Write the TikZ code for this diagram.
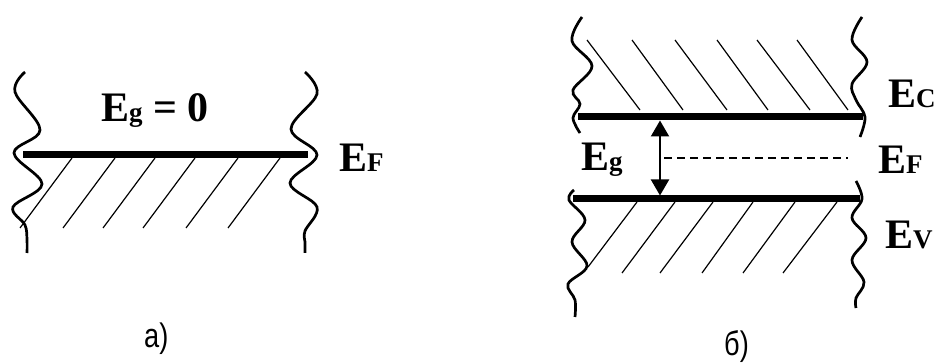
\documentclass[tikz,border=0pt]{standalone}
\usepackage{fontspec}
\setmainfont{Liberation Serif}
\newfontfamily\labfont{Liberation Sans}
\usetikzlibrary{arrows.meta}
\newcommand\lsub[1]{{\fontsize{27pt}{27pt}\selectfont #1}}
\tikzset{
  wave/.style={line width=2.7pt},
  bar/.style={line width=7pt},
  hatch/.style={line width=1.2pt},
  fermi/.style={line width=1.2pt, dash pattern=on 8pt off 5pt},
  gaparrow/.style={line width=2pt, {Triangle[width=18pt,length=16pt]}-{Triangle[width=18pt,length=16pt]}},
  lbl/.style={font=\bfseries\fontsize{42pt}{42pt}\selectfont, anchor=base west, inner sep=0pt},
  panellabel/.style={font=\labfont\fontsize{34pt}{34pt}\selectfont, anchor=base west, inner sep=0pt}
}
\begin{document}
\begin{tikzpicture}[x=1pt,y=-1pt]
\useasboundingbox (0,0) rectangle (939,363);
% ---------- panel a ----------
\draw[wave] plot[smooth, tension=0.6] coordinates {(25,72) (15,92) (40,130) (14,153) (42,184) (13,207) (25,225) (27,240) (27,253)};
\draw[wave] plot[smooth, tension=0.6] coordinates {(305,72) (317,94) (291,129) (317,155) (290,183) (317,207) (305,231) (305,242) (305,253)};
\coordinate (aL) at (23,155);
\coordinate (aR) at (308,155);
\draw[bar] (aL) -- (aR);
\foreach \t in {72,115,155,195,238,280}
  \draw[hatch] (\t,158) -- ++(-52,70);
\node[lbl] (ega) at (101,122) {E\lsub{g} = 0};
\node[lbl] (efa) at (339,172) {E\lsub{F}};
\node[panellabel] (capa) at (144,347) {\scalebox{0.8}[1]{а)}};
% ---------- panel b ----------
\draw[wave] plot[smooth, tension=0.6] coordinates {(582,17) (572,41) (592,66) (573,90) (580,104) (573,118) (580,133)};
\draw[wave] plot[smooth, tension=0.6] coordinates {(574,190) (569,200) (585,220) (572,242) (587,266) (568,284) (575,300) (575,317)};
\draw[wave] plot[smooth, tension=0.6] coordinates {(862,17) (852,40) (867,62) (852,84) (856,100) (865,117) (860,137)};
\draw[wave] plot[smooth, tension=0.6] coordinates {(856,181) (862,199) (852,218) (866,238) (852,260) (864,282) (856,298) (856,308)};
\coordinate (cL) at (578,117);
\coordinate (cR) at (863,117);
\coordinate (vL) at (573,199);
\coordinate (vR) at (860,199);
\draw[bar] (cL) -- (cR);
\draw[bar] (vL) -- (vR);
\foreach \t/\b in {587/640,632/683,675/727,717/768,757/810,797/848}
  \draw[hatch] (\t,40) -- (\b,110);
\draw[hatch] (637,202) -- (588,267);
\foreach \t/\b in {675/622,713/660,753/702,795/743,837/783}
  \draw[hatch] (\t,202) -- (\b,273);
\coordinate (arT) at (660,120.5);
\coordinate (arB) at (660,195.5);
\draw[gaparrow] (arT) -- (arB);
\coordinate (fS) at (664,158);
\coordinate (fE) at (848,158);
\draw[fermi] (fS) -- (fE);
\node[lbl] (egb) at (581,171) {E\lsub{g}};
\node[lbl] (ec) at (888,108) {E\lsub{C}};
\node[lbl] (efb) at (878,174) {E\lsub{F}};
\node[lbl] (ev) at (885,249) {E\lsub{V}};
\node[panellabel] (capb) at (724,355) {\scalebox{0.8}[1]{б)}};
\end{tikzpicture}
\end{document}
